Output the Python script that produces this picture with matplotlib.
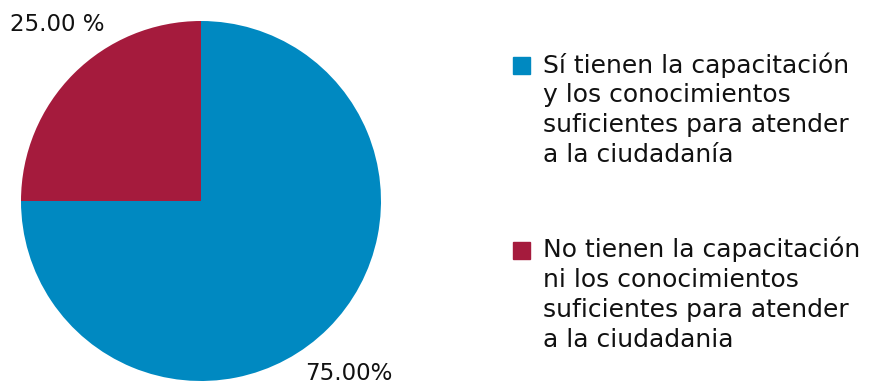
import matplotlib.pyplot as plt
from matplotlib.patches import Rectangle

# data
labels = [
    "Sí tienen la capacitación\ny los conocimientos\nsuficientes para atender\na la ciudadanía",
    "No tienen la capacitación\nni los conocimientos\nsuficientes para atender\na la ciudadania",
]
values = [75.0, 25.0]
value_text = ["75.00%", "25.00 %"]
colors = ["#0089C1", "#A51B3D"]

plt.rcParams['font.family'] = ['DejaVu Sans']

W, H = 869, 385
fig = plt.figure(figsize=(W / 100, H / 100), dpi=100)

# pie axes: center (201, 201), radius 180 px
ax = fig.add_axes([21 / W, (H - 381) / H, 360 / W, 360 / H])
ax.pie(values, colors=colors, startangle=90, counterclock=False,
       wedgeprops=dict(linewidth=0))
ax.set_xlim(-1, 1)
ax.set_ylim(-1, 1)
ax.set_aspect('equal')
ax.axis('off')

# percentage labels
fig.text(10 / W, 1 - 31 / H, value_text[1], fontsize=16.5, color="#111111",
         ha='left', va='baseline')
fig.text(305 / W, 1 - 380 / H, value_text[0], fontsize=16.5, color="#111111",
         ha='left', va='baseline')

# legend drawn by hand: square + multi-line label
legend_top = [57, 242]
for lab, col, top in zip(labels, colors, legend_top):
    fig.patches.append(Rectangle((513 / W, 1 - (top + 17) / H), 17 / W, 17 / H,
                                 transform=fig.transFigure, color=col))
    fig.text(543 / W, 1 - (top - 5) / H, lab, fontsize=18, color="#111111",
             ha='left', va='top', linespacing=1.3)

fig.savefig("out.png", dpi=100)
